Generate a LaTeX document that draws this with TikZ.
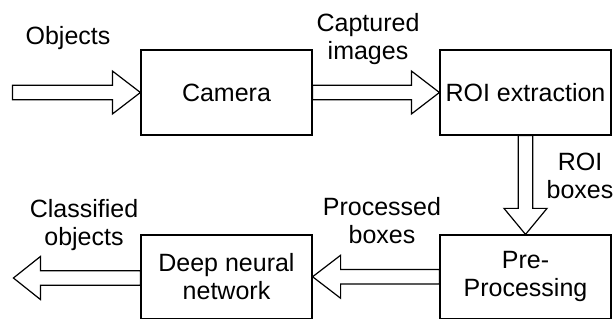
\documentclass[tikz,border=0pt]{standalone}
\usepackage{fontspec}
\setmainfont{Liberation Sans}
\usetikzlibrary{calc}

% shaft half-width, head half-width
\def\sw{7.2}
\def\hw{21.5}

% hollow block arrow, horizontal: tail, tip, signed offset of head base from tip
\newcommand\harrow[3]{%
  \draw[fat] ($(#1)+(0,\sw)$) -- ($(#2)+(#3,\sw)$) -- ($(#2)+(#3,\hw)$) -- (#2)
    -- ($(#2)+(#3,-\hw)$) -- ($(#2)+(#3,-\sw)$) -- ($(#1)+(0,-\sw)$) -- cycle;}
% hollow block arrow, vertical
\newcommand\varrow[3]{%
  \draw[fat] ($(#1)+(\sw,0)$) -- ($(#2)+(\sw,#3)$) -- ($(#2)+(\hw,#3)$) -- (#2)
    -- ($(#2)+(-\hw,#3)$) -- ($(#2)+(-\sw,#3)$) -- ($(#1)+(-\sw,0)$) -- cycle;}

\begin{document}
\begin{tikzpicture}[x=1pt,y=-1pt,
  font=\fontsize{25}{28}\selectfont,
  block/.style={draw, line width=1.2pt, minimum width=171pt, inner sep=0pt, align=center},
  fat/.style={draw, fill=white, line width=1.2pt, line join=miter},
  lbl/.style={align=center, inner sep=0pt}]
\useasboundingbox (0,0) rectangle (615,320);

\node[block, minimum height=85pt] (cam) at (226.5,92.5) {Camera};
\node[block, minimum height=85pt] (roi) at (525.5,92.5) {ROI extraction};
\node[block, minimum height=83.5pt] (pre) at (525.5,276.75) {Pre-\\Processing};
\node[block, minimum height=83.5pt] (dnn) at (226.5,276.75) {Deep neural\\network};

\coordinate (src) at ($(cam.west)+(-128,0)$);
\coordinate (out) at ($(dnn.west)+(-127,1.25)$);

\harrow{src}{cam.west}{-28}
\harrow{cam.east}{roi.west}{-28}
\varrow{roi.south}{pre.north}{-26}
\harrow{pre.west}{dnn.east}{28}
\harrow{$(dnn.west)+(0,1.25)$}{out}{27}

\node[lbl] (lobj) at (68,38) {Objects};
\node[lbl] (lcap) at (368,39) {Captured\\images};
\node[lbl] (lroi) at (580,176) {ROI\\boxes};
\node[lbl] (lproc) at (382,221) {Processed\\boxes};
\node[lbl] (lcls) at (84,225) {Classified\\objects};
\end{tikzpicture}
\end{document}
